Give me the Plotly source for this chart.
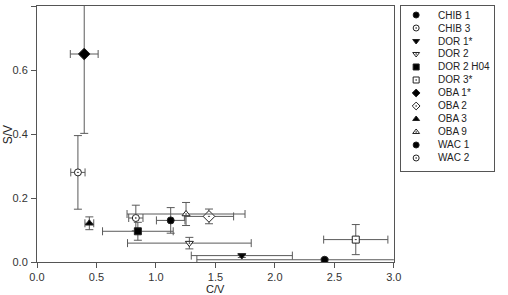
import plotly.graph_objects as go

# ---- data ----
names = ["CHIB 1", "CHIB 3", "DOR 1*", "DOR 2", "DOR 2 H04", "DOR 3*",
         "OBA 1*", "OBA 2", "OBA 3", "OBA 9", "WAC 1", "WAC 2"]
cv = [1.124, 0.831, 1.722, 1.281, 0.848, 2.680, 0.397, 1.446, 0.440, 1.253, 2.418, 0.344]
sv = [0.130, 0.1375, 0.020, 0.059, 0.096, 0.070, 0.650, 0.1425, 0.121, 0.150, 0.007, 0.280]
cv_err = [0.120, 0.060, 0.425, 0.520, 0.297, 0.270, 0.117, 0.207, 0.037, 0.496, 1.074, 0.060]
sv_err = [0.040, 0.040, 0.006, 0.018, 0.028, 0.047, 0.248, 0.023, 0.020, 0.036, 0.004, 0.115]
symbols = ["circle", "circle-dot", "triangle-down", "triangle-down-dot", "square", "square-dot",
           "diamond", "diamond-dot", "triangle-up", "triangle-up-dot", "circle", "circle-dot"]
filled = [True, False, True, False, True, False, True, False, True, False, True, False]

x_ticks = [0.0, 0.5, 1.0, 1.5, 2.0, 2.5, 3.0]
y_ticks = [0.0, 0.2, 0.4, 0.6, 0.8]

ERR = "#5a5a5a"
AX = "#555555"
FONT = "Liberation Sans, Arial, sans-serif"

fig = go.Figure()

for n, x, y, ex, ey, s, f in zip(names, cv, sv, cv_err, sv_err, symbols, filled):
    fig.add_trace(go.Scatter(
        x=[x], y=[y], mode="markers", name=n, showlegend=False,
        marker=dict(symbol=s, size=7 if "diamond" not in s else 9,
                    color="black" if f else "white",
                    line=dict(color="#222222", width=1)),
        error_x=dict(type="data", array=[ex], color=ERR, thickness=1, width=4),
        error_y=dict(type="data", array=[ey], color=ERR, thickness=1, width=4),
        xaxis="x", yaxis="y", cliponaxis=True,
    ))

# legend drawn on its own small axes
leg_idx = list(range(len(names)))
fig.add_trace(go.Scatter(
    x=[0.165] * len(names), y=leg_idx, mode="markers", showlegend=False,
    marker=dict(symbol=symbols, size=6,
                color=["black" if f else "white" for f in filled],
                line=dict(color="#222222", width=1)),
    xaxis="x2", yaxis="y2", hoverinfo="skip",
))
for i, n in enumerate(names):
    fig.add_annotation(x=0.38, y=i, xref="x2", yref="y2", text=n, showarrow=False,
                       xanchor="left", yanchor="middle",
                       font=dict(family=FONT, size=10, color="#222222"))

# axis titles
fig.add_annotation(x=0.385, y=-0.104, xref="paper", yref="paper", text="C/V", showarrow=False,
                   xanchor="center", yanchor="middle", font=dict(family=FONT, size=11, color="#222222"))
fig.add_annotation(x=-0.062, y=0.496, xref="paper", yref="paper", text="S/V", showarrow=False,
                   textangle=-90, xanchor="center", yanchor="middle",
                   font=dict(family=FONT, size=12, color="#222222"))

fig.update_layout(
    width=508, height=295,
    margin=dict(l=37, r=0, t=6, b=33),
    paper_bgcolor="white", plot_bgcolor="white",
    font=dict(family=FONT, size=11, color="#333333"),
    xaxis=dict(domain=[0, 0.7707], range=[0, 3], tickvals=x_ticks,
               ticktext=[f"{v:.1f}" for v in x_ticks],
               showline=True, mirror=True, linecolor=AX, linewidth=1,
               ticks="outside", ticklen=5, tickcolor=AX,
               showgrid=False, zeroline=False),
    yaxis=dict(domain=[0, 1], range=[0, 0.8], tickvals=y_ticks,
               ticktext=[f"{v:.1f}" for v in y_ticks],
               showline=True, mirror=True, linecolor=AX, linewidth=1,
               ticks="outside", ticklen=5, tickcolor=AX, ticklabelstandoff=1,
               showgrid=False, zeroline=False),
    xaxis2=dict(domain=[0.7856, 0.9873], range=[0, 1], anchor="y2",
                showline=True, mirror=True, linecolor=AX, linewidth=1,
                showticklabels=False, ticks="", showgrid=False, zeroline=False),
    yaxis2=dict(domain=[0.3555, 1], range=[12, -0.692], anchor="x2",
                showline=True, mirror=True, linecolor=AX, linewidth=1,
                showticklabels=False, ticks="", showgrid=False, zeroline=False),
    showlegend=False,
)

fig.write_html("out.html")
